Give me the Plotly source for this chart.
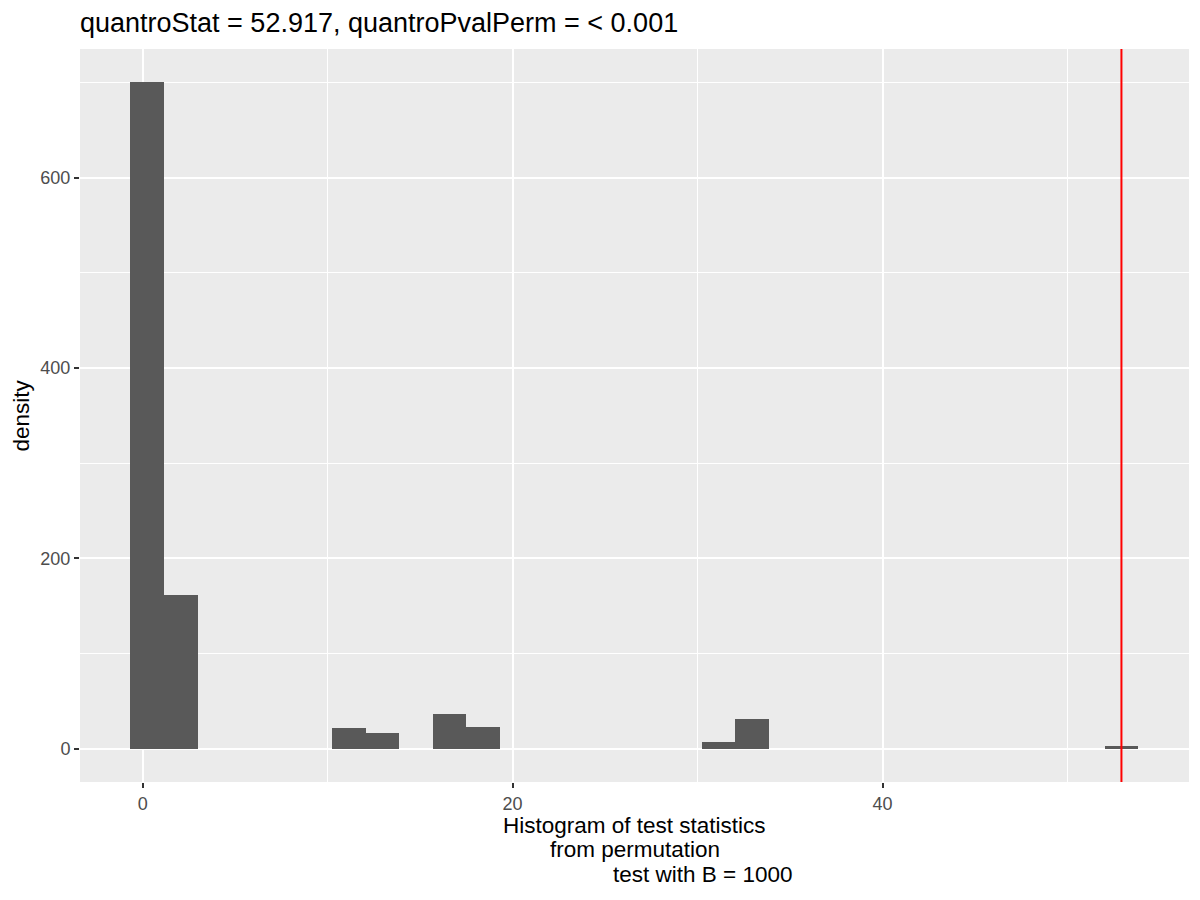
import numpy as np
import plotly.graph_objects as go

# permutation test statistics, binned as in the original histogram (30 bins)
bin_start = -0.666
bin_width = 1.8168
counts = [700, 161, 0, 0, 0, 0, 22, 17, 0, 36,
          23, 0, 0, 0, 0, 0, 0, 7, 31, 0,
          0, 0, 0, 0, 0, 0, 0, 0, 0, 3]
quantro_stat = 52.917
title_text = "quantroStat = 52.917, quantroPvalPerm = < 0.001"
xlab_lines = ["Histogram of test statistics", "from permutation", "test with B = 1000"]

centers = bin_start + bin_width * (np.arange(len(counts)) + 0.5)

FONT = "Liberation Sans, Arial, sans-serif"

fig = go.Figure(go.Bar(x=centers, y=counts, width=bin_width,
                       marker=dict(color="#595959", line=dict(width=0)),
                       hoverinfo="x+y"))

fig.add_shape(type="line", xref="x", yref="paper", x0=quantro_stat, x1=quantro_stat,
              y0=0, y1=1, line=dict(color="#FF0000", width=2))

axis_style = dict(showgrid=True, gridcolor="white", gridwidth=2, zeroline=False,
                  ticks="outside", ticklen=5, tickwidth=1.5, tickcolor="#333333",
                  tickfont=dict(family=FONT, size=18, color="#4D4D4D"),
                  showline=False)

fig.update_xaxes(range=[-3.39, 56.57], dtick=20, tick0=0,
                 minor=dict(dtick=10, tick0=0, showgrid=True, gridcolor="white", gridwidth=1),
                 **axis_style)
fig.update_yaxes(range=[-35, 735], dtick=200, tick0=0,
                 minor=dict(dtick=100, tick0=0, showgrid=True, gridcolor="white", gridwidth=1),
                 **axis_style)

# x-axis title: three lines, the last one shifted right as in the original
shifts = [0, 0, 68]
yshifts = [-43, -67, -92]
for line, xs, ys in zip(xlab_lines, shifts, yshifts):
    fig.add_annotation(text=line, xref="paper", yref="paper", x=0.5, y=0,
                       xanchor="center", yanchor="middle", xshift=xs, yshift=ys,
                       showarrow=False, font=dict(family=FONT, size=22.5, color="black"))

fig.add_annotation(text="density", xref="paper", yref="paper", x=0, y=0.5,
                   xanchor="center", yanchor="middle", xshift=-59, textangle=-90,
                   showarrow=False, font=dict(family=FONT, size=22.5, color="black"))

fig.update_layout(
    width=1200, height=900,
    title=dict(text=title_text, x=72 / 1200, xanchor="left", xref="container",
               y=1 - 24 / 900, yanchor="bottom", yref="container",
               font=dict(family=FONT, size=27, color="black")),
    plot_bgcolor="#EBEBEB", paper_bgcolor="white",
    margin=dict(l=72, r=19, t=41, b=126),
    bargap=0, showlegend=False,
)

fig.write_html("out.html")
